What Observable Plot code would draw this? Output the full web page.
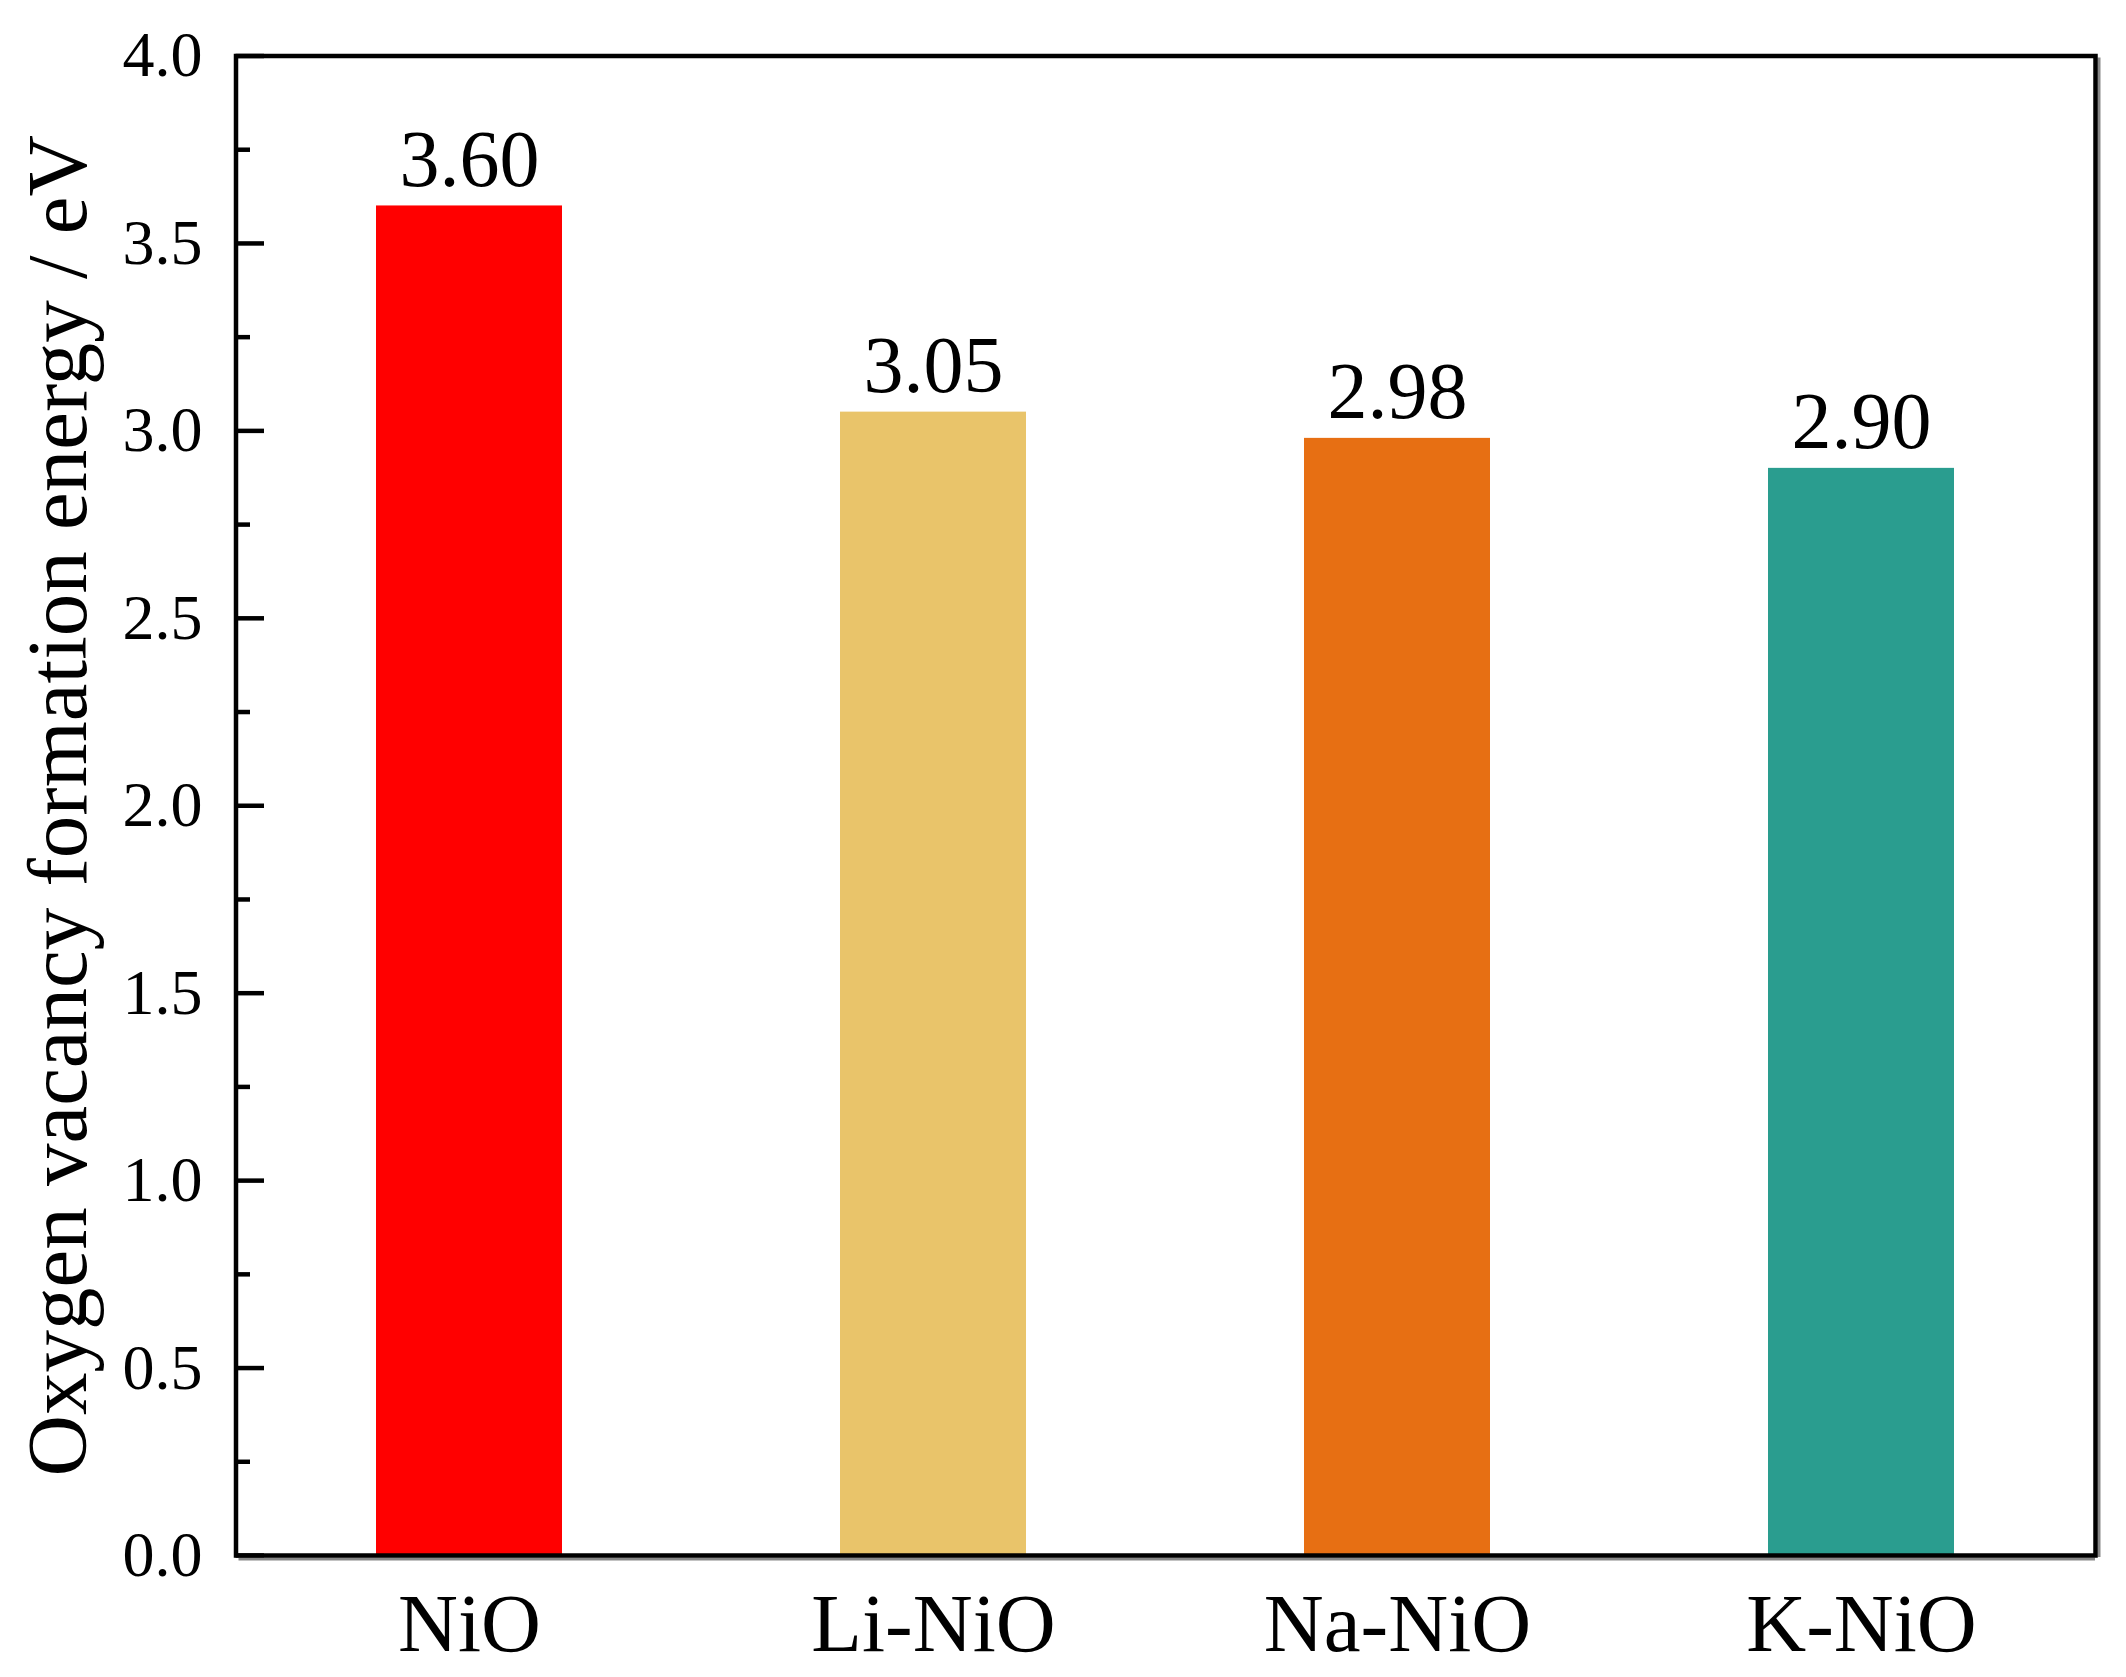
<!DOCTYPE html>
<html><head><meta charset="utf-8">
<script src="https://cdn.jsdelivr.net/npm/d3@7"></script>
<script src="https://cdn.jsdelivr.net/npm/@observablehq/plot@0.6"></script>
<style>body{margin:0;background:#fff}</style>
</head><body><div id="chart"></div>
<script>
const categories = ["NiO", "Li-NiO", "Na-NiO", "K-NiO"];
const energies = [3.60, 3.05, 2.98, 2.90];
const valueLabels = ["3.60", "3.05", "2.98", "2.90"];
const barColors = ["#FF0000", "#E9C46A", "#E76F13", "#2A9D8F"];
const majorTicks = [0, 0.5, 1, 1.5, 2, 2.5, 3, 3.5, 4];
const minorTicks = [0.25, 0.75, 1.25, 1.75, 2.25, 2.75, 3.25, 3.75];
const yLabel = "Oxygen vacancy formation energy / eV";

const data = categories.map((c, i) => ({name: c, value: energies[i], label: valueLabels[i]}));
const W = 2126, H = 1677, mL = 235.5, mR = 31, mT = 55.5, mB = 122;
const plotW = W - mL - mR;
const chart = Plot.plot({
  width: W, height: H, marginLeft: mL, marginRight: mR, marginTop: mT, marginBottom: mB,
  style: {fontFamily: "'Liberation Serif','Times New Roman',serif", background: "#fff", color: "#000"},
  x: {domain: categories, paddingInner: 0.6, paddingOuter: 0.3},
  y: {domain: [0, 4]},
  color: {domain: categories, range: barColors},
  marks: [
    Plot.barY(data, {x: "name", y: "value", fill: "name"}),
    Plot.ruleY(majorTicks, {stroke: "#000", strokeWidth: 4.5, insetRight: plotW - 28.5}),
    Plot.ruleY(minorTicks, {stroke: "#000", strokeWidth: 4.5, insetRight: plotW - 14.5}),
    Plot.axisY({ticks: majorTicks, tickSize: 0, tickPadding: 33.5, tickFormat: d3.format(".1f"), fontSize: 64, label: null}),
    Plot.axisX({tickSize: 0, tickPadding: 37, fontSize: 83, label: null}),
    Plot.text(data, {x: "name", y: "value", text: "label", lineAnchor: "bottom", dy: -20, fontSize: 80}),
    Plot.text([yLabel], {text: d => d, frameAnchor: "left", textAnchor: "middle", lineAnchor: "middle", rotate: -90, dx: -177.5, fontSize: 85}),
    Plot.ruleY([0], {stroke: "#888", strokeWidth: 3, dy: 3.5, insetLeft: 3}),
    Plot.frame({anchor: "right", stroke: "#888", strokeWidth: 3, dx: 3.5, insetTop: 3}),
    Plot.frame({stroke: "#000", strokeWidth: 4.5})
  ]
});
document.getElementById("chart").appendChild(chart);
</script>
</body></html>
